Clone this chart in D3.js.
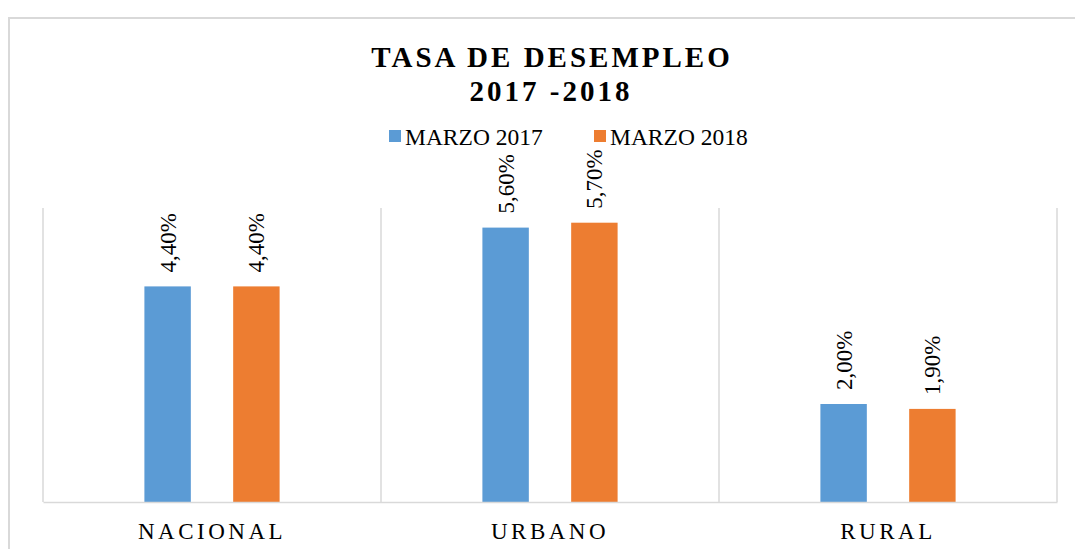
<!DOCTYPE html>
<html>
<head>
<meta charset="utf-8">
<script src="https://cdn.jsdelivr.net/npm/d3@7"></script>
<style>
  body { margin: 0; background: #fff; }
  svg { display: block; }
  svg text { font-family: "Liberation Serif", "Times New Roman", serif; }
</style>
</head>
<body>
<div id="chart"></div>
<script>
// data
var categories = ['NACIONAL', 'URBANO', 'RURAL'];
var seriesNames = ['MARZO 2017', 'MARZO 2018'];
var marzo2017 = [4.4, 5.6, 2.0];
var marzo2018 = [4.4, 5.7, 1.9];
var labels2017 = ['4,40%', '5,60%', '2,00%'];
var labels2018 = ['4,40%', '5,70%', '1,90%'];
var colors = ['#5b9bd5', '#ed7d31'];

var W = 1075, H = 549;
var margin = {top: 208, right: 18, bottom: 47, left: 43};
var width = W - margin.left - margin.right,
    height = H - margin.top - margin.bottom;

var svg = d3.select('#chart').append('svg')
  .attr('width', W)
  .attr('height', H);

// chart border
svg.append('rect')
  .attr('x', 9).attr('y', 18)
  .attr('width', W + 20).attr('height', H + 20)
  .attr('fill', 'none')
  .attr('stroke', '#d9d9d9')
  .attr('stroke-width', 2);

var g = svg.append('g')
  .attr('transform', 'translate(' + margin.left + ',' + margin.top + ')');

// scales
var x0 = d3.scaleBand().domain(categories).range([0, width]).padding(0);
var x1 = d3.scaleBand().domain(seriesNames)
  .range([x0.bandwidth() * 0.3, x0.bandwidth() * 0.7])
  .paddingInner(0.477);
var y = d3.scaleLinear().domain([0, 6]).range([height, 0]);

// vertical gridlines between categories
var bounds = categories.map(function(c) { return x0(c); }).concat([width]);
g.selectAll('.vgrid').data(bounds).enter().append('line')
  .attr('class', 'vgrid')
  .attr('x1', function(d) { return d; }).attr('x2', function(d) { return d; })
  .attr('y1', 0).attr('y2', height)
  .attr('stroke', '#d9d9d9').attr('stroke-width', 1.5);

// bars
var rows = categories.map(function(c, i) {
  return [
    {cat: c, s: seriesNames[0], v: marzo2017[i], label: labels2017[i], color: colors[0]},
    {cat: c, s: seriesNames[1], v: marzo2018[i], label: labels2018[i], color: colors[1]}
  ];
});
var flat = d3.merge(rows);

g.selectAll('.bar').data(flat).enter().append('rect')
  .attr('class', 'bar')
  .attr('x', function(d) { return x0(d.cat) + x1(d.s); })
  .attr('width', x1.bandwidth())
  .attr('y', function(d) { return y(d.v); })
  .attr('height', function(d) { return height - y(d.v); })
  .attr('fill', function(d) { return d.color; });

// rotated value labels
g.selectAll('.vlabel').data(flat).enter().append('text')
  .attr('class', 'vlabel')
  .attr('transform', function(d) {
    var cx = x0(d.cat) + x1(d.s) + x1.bandwidth() / 2;
    return 'translate(' + cx + ',' + (y(d.v) - 14) + ') rotate(-90)';
  })
  .attr('dy', '0.35em')
  .attr('text-anchor', 'start')
  .style('font-size', '23px')
  .attr('fill', '#000')
  .text(function(d) { return d.label; });

// x axis baseline + labels
var xAxis = g.append('g')
  .attr('transform', 'translate(0,' + height + ')')
  .call(d3.axisBottom(x0).tickSize(0).tickPadding(21));
xAxis.select('.domain').attr('stroke', '#d9d9d9').attr('stroke-width', 1.5);
xAxis.selectAll('text')
  .attr('dy', '0.71em')
  .style('font-family', '"Liberation Serif", "Times New Roman", serif')
  .style('font-size', '23px')
  .style('letter-spacing', '3.5px')
  .attr('fill', '#000');

// title
var title = svg.append('text')
  .attr('text-anchor', 'middle')
  .style('font-size', '29px').style('font-weight', 'bold')
  .style('letter-spacing', '3px');
title.append('tspan').attr('x', 552).attr('y', 67).text('TASA DE DESEMPLEO');
title.append('tspan').attr('x', 551).attr('y', 101).text('2017 -2018');

// legend
var legendX = [389, 594];
var legend = svg.selectAll('.legend').data(seriesNames).enter().append('g')
  .attr('class', 'legend')
  .attr('transform', function(d, i) { return 'translate(' + legendX[i] + ',130)'; });
legend.append('rect')
  .attr('width', 12).attr('height', 12)
  .attr('fill', function(d, i) { return colors[i]; });
legend.append('text')
  .attr('x', 16).attr('y', 15)
  .style('font-size', '23.5px')
  .attr('fill', '#000')
  .text(function(d) { return d; });
</script>
</body>
</html>
